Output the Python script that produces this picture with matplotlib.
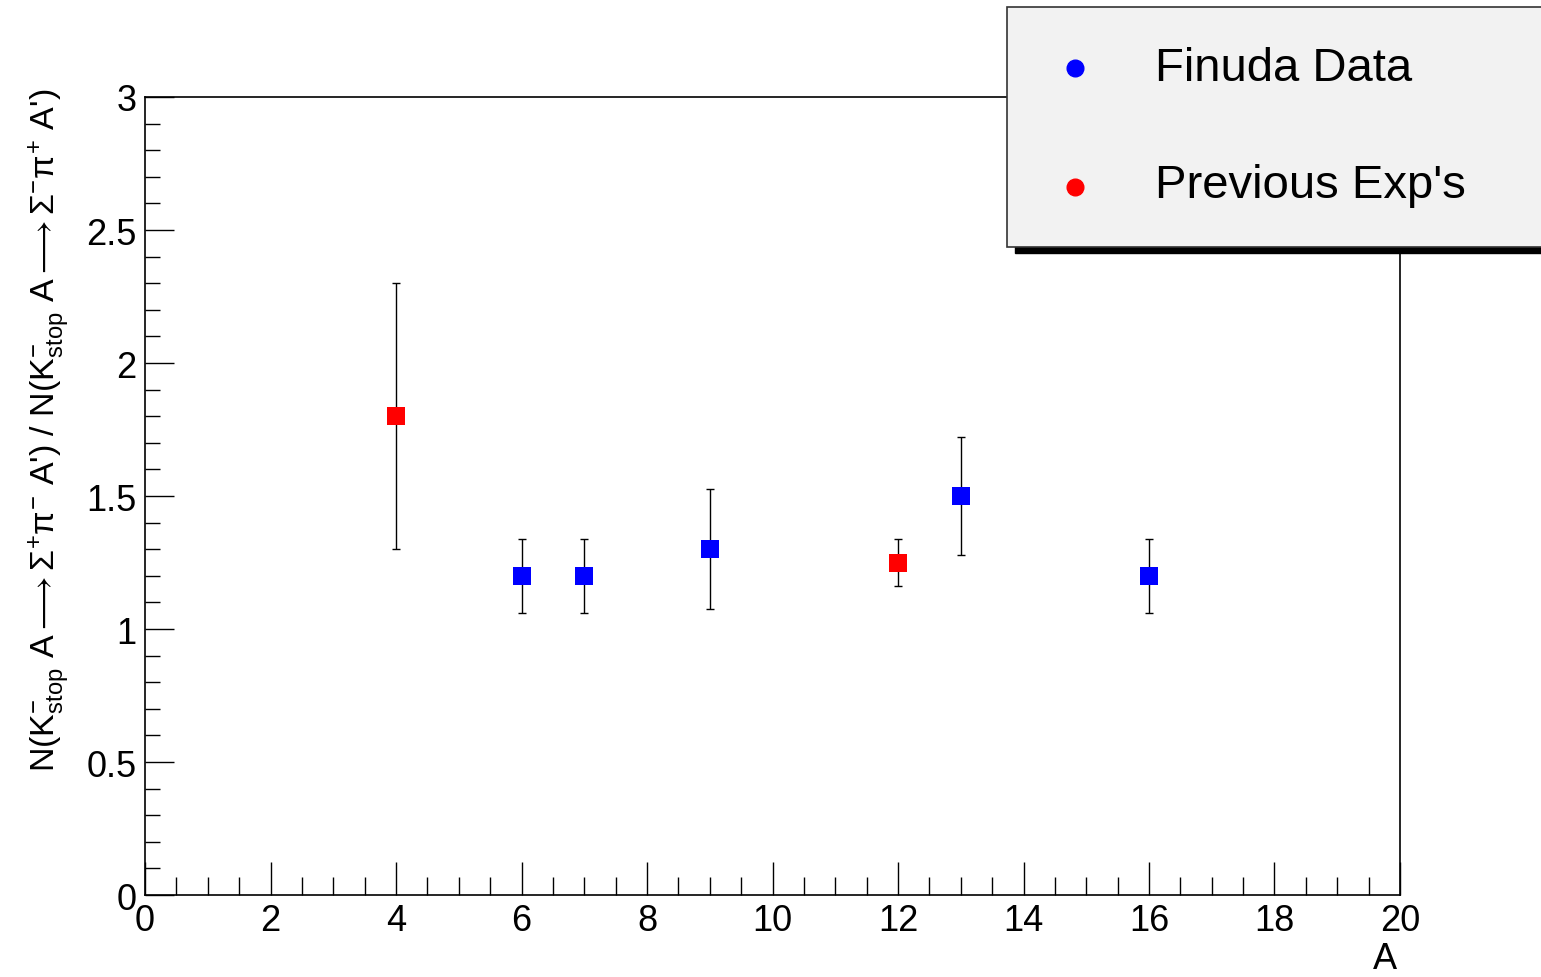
import matplotlib
matplotlib.use("Agg")
import matplotlib.pyplot as plt
from matplotlib.patches import Rectangle
from matplotlib.ticker import MultipleLocator, FormatStrFormatter
from matplotlib.lines import Line2D

plt.rcParams['font.family'] = ['Liberation Sans', 'DejaVu Sans']
plt.rcParams['mathtext.fontset'] = 'custom'
plt.rcParams['mathtext.rm'] = 'Liberation Sans'
plt.rcParams['mathtext.it'] = 'Liberation Sans'
plt.rcParams['mathtext.sf'] = 'Liberation Sans'
plt.rcParams['mathtext.fallback'] = 'stixsans'

# Finuda data
finuda_A = [6, 7, 9, 13, 16]
finuda_R = [1.20, 1.20, 1.30, 1.50, 1.20]
finuda_lo = [0.14, 0.14, 0.225, 0.22, 0.14]
finuda_hi = [0.14, 0.14, 0.225, 0.22, 0.14]

# previous experiments
prev_A = [4, 12]
prev_R = [1.80, 1.25]
prev_lo = [0.50, 0.09]
prev_hi = [0.50, 0.09]

fig = plt.figure(figsize=(15.41, 9.78), dpi=100)
ax = fig.add_axes([0.0941, 0.0838, 0.8144, 0.816])

for xs, ys, lo, hi, c in [(prev_A, prev_R, prev_lo, prev_hi, 'red'),
                          (finuda_A, finuda_R, finuda_lo, finuda_hi, 'blue')]:
    _, caps, _ = ax.errorbar(xs, ys, yerr=[lo, hi], fmt='s', color=c,
                             ecolor='black', elinewidth=1, capsize=3,
                             markersize=13, markeredgewidth=0)
    for cap in caps:
        cap.set_markeredgewidth(1)
        cap.set_color('black')

ax.set_xlim(0, 20)
ax.set_ylim(0, 3)
ax.xaxis.set_major_locator(MultipleLocator(2))
ax.xaxis.set_minor_locator(MultipleLocator(0.5))
ax.yaxis.set_major_locator(MultipleLocator(0.5))
ax.yaxis.set_minor_locator(MultipleLocator(0.1))
ax.xaxis.set_major_formatter(FormatStrFormatter('%g'))
ax.yaxis.set_major_formatter(FormatStrFormatter('%g'))
ax.tick_params(axis='both', which='both', direction='in', top=False, right=False,
               labelsize=26, width=1)
ax.tick_params(axis='x', which='major', length=24, pad=6)
ax.tick_params(axis='x', which='minor', length=13)
ax.tick_params(axis='y', which='major', length=21, pad=6)
ax.tick_params(axis='y', which='minor', length=11)
for s in ax.spines.values():
    s.set_linewidth(1.2)

ax.set_ylabel(r"N(K$^{-}_{stop}$ A$\longrightarrow\Sigma^{+}\pi^{-}$ A') / "
              r"N(K$^{-}_{stop}$ A$\longrightarrow\Sigma^{-}\pi^{+}$ A')",
              fontsize=24.5)
ax.yaxis.set_label_coords(-0.058, 0.584)
fig.text(1385 / 1541, 1 - 960 / 978, 'A', fontsize=26, ha='center', va='center')

# legend box, ROOT style
lx, ly, lw, lh = 1007 / 1541, 1 - 248 / 978, 0.36, 240 / 978
fig.patches.append(Rectangle((lx + 8 / 1541, ly - 6 / 978), lw, lh, transform=fig.transFigure,
                             facecolor='black', edgecolor='black', zorder=5))
fig.patches.append(Rectangle((lx, ly), lw, lh, transform=fig.transFigure,
                             facecolor='#f2f2f2', edgecolor='#333333', linewidth=1.2, zorder=6))
fig.add_artist(Line2D([1075 / 1541], [1 - 69 / 978], marker='o', color='blue',
                      markersize=12, transform=fig.transFigure, zorder=7))
fig.add_artist(Line2D([1075 / 1541], [1 - 188 / 978], marker='o', color='red',
                      markersize=12, transform=fig.transFigure, zorder=7))
fig.text(1155 / 1541, 1 - 69 / 978, 'Finuda Data', fontsize=34, va='center', zorder=8)
fig.text(1155 / 1541, 1 - 186 / 978, "Previous Exp's", fontsize=34, va='center', zorder=8)

fig.savefig('out.png', dpi=100)
